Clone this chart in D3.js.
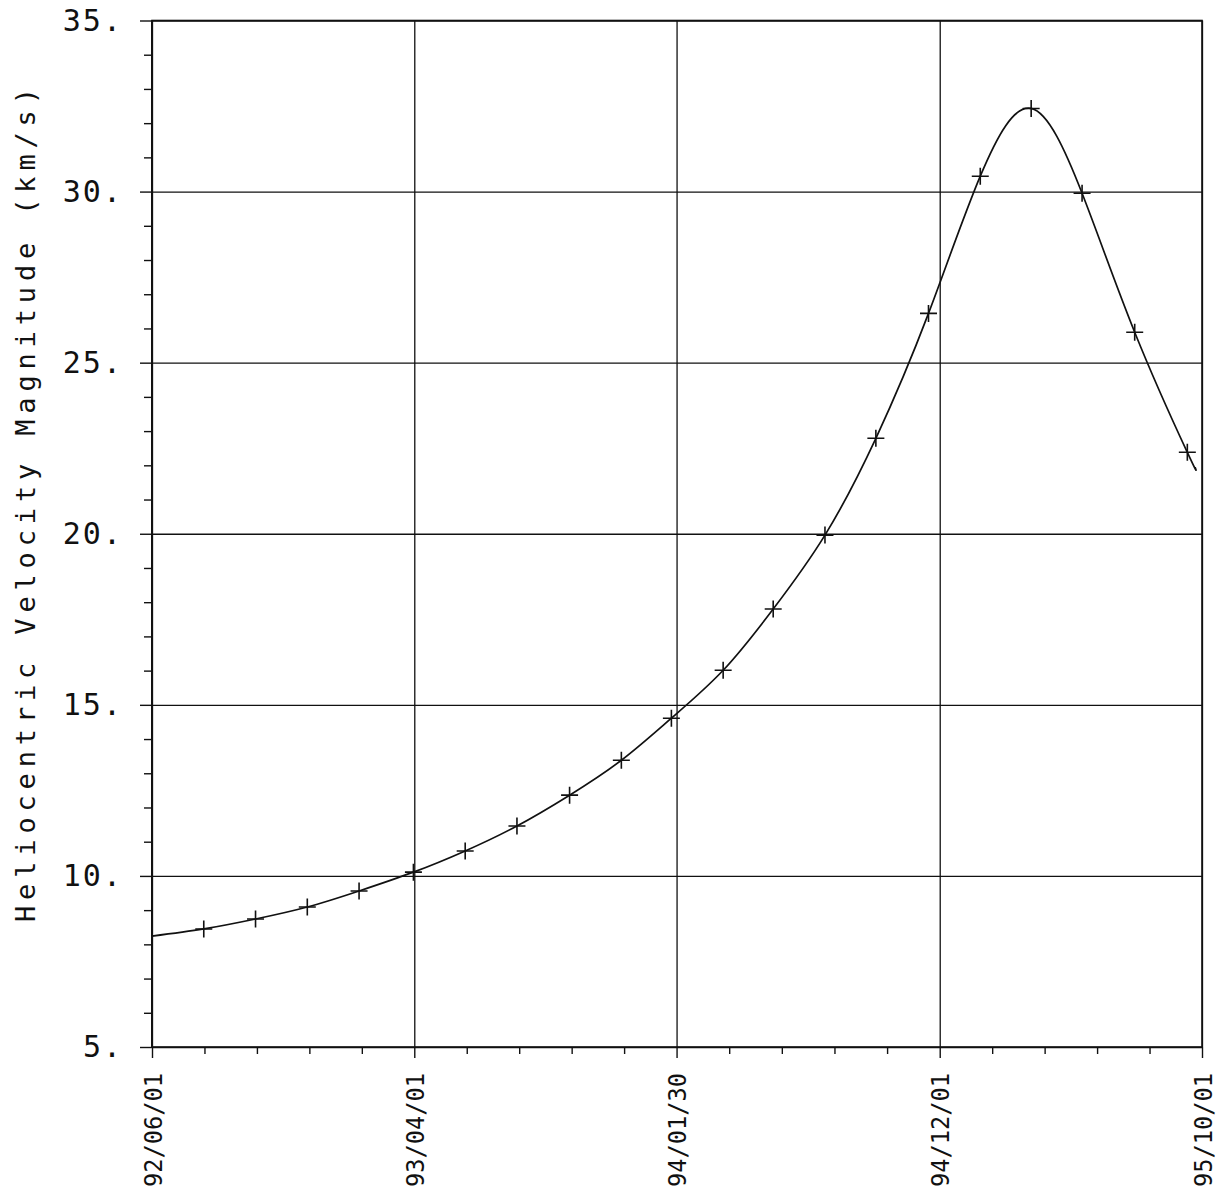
<!DOCTYPE html>
<html>
<head>
<meta charset="utf-8">
<script src="https://cdn.jsdelivr.net/npm/d3@7"></script>
<style>
  html, body { margin: 0; padding: 0; background: #fff; }
  svg { display: block; }
  text { font-family: "DejaVu Sans Mono", "Liberation Mono", monospace; fill: #111; }
</style>
</head>
<body>
<svg id="chart" width="1231" height="1196"></svg>
<script>
// ---- data ----
const xTickLabels = ["92/06/01", "93/04/01", "94/01/30", "94/12/01", "95/10/01"];
const yTickValues = [5, 10, 15, 20, 25, 30, 35];
const yTitle = "Heliocentric Velocity Magnitude (km/s)";

// "+" markers
const markerDates = [
  "92/07/31", "92/09/29", "92/11/28", "93/01/27", "93/03/31",
  "93/05/30", "93/07/29", "93/09/28", "93/11/27", "94/01/24",
  "94/03/25", "94/05/22", "94/07/21", "94/09/18", "94/11/18",
  "95/01/17", "95/03/17", "95/05/15", "95/07/15", "95/09/14"
];
const markerValues = [
  8.45, 8.74, 9.09, 9.56, 10.11,
  10.73, 11.46, 12.36, 13.38, 14.61,
  16.01, 17.80, 19.96, 22.79, 26.44,
  30.45, 32.43, 29.95, 25.89, 22.38
];
// ends of the continuous curve (beyond the markers)
const curveStartDate = "92/06/01", curveStartValue = 8.24;
const curveEndDate = "95/09/23", curveEndValue = 21.94;

(function () {
  // ---- layout ----
  const svg = d3.select("#chart");
  const mLeft = 152, mRight = 1202, mTop = 20.5, mBottom = 1047;
  const parse = d3.utcParse("%y/%m/%d");

  const xTicks = xTickLabels.map(parse);
  const x = d3.scaleUtc().domain([xTicks[0], xTicks[xTicks.length - 1]]).range([mLeft, mRight]);
  const y = d3.scaleLinear().domain([5, 35]).range([mBottom, mTop]);

  // minor x ticks: 4 between each pair of labelled ticks
  const xMinor = [];
  for (let i = 0; i < xTicks.length - 1; i++) {
    const a = +xTicks[i], b = +xTicks[i + 1];
    for (let k = 1; k < 5; k++) xMinor.push(new Date(a + (b - a) * k / 5));
  }
  const yMinor = d3.range(5, 36, 1).filter(v => v % 5 !== 0);

  const ink = "#111";

  // grid lines
  svg.append("g")
    .attr("transform", `translate(${mLeft},0)`)
    .call(d3.axisLeft(y).tickValues(yTickValues).tickSize(-(mRight - mLeft)).tickFormat(""))
    .call(g => g.select(".domain").remove())
    .call(g => g.selectAll("line").attr("stroke", ink).attr("stroke-width", 1.3));
  svg.append("g")
    .attr("transform", `translate(0,${mBottom})`)
    .call(d3.axisBottom(x).tickValues(xTicks).tickSize(-(mBottom - mTop)).tickFormat(""))
    .call(g => g.select(".domain").remove())
    .call(g => g.selectAll("line").attr("stroke", ink).attr("stroke-width", 1.3));

  // y axis: minor + major ticks
  svg.append("g")
    .attr("transform", `translate(${mLeft},0)`)
    .call(d3.axisLeft(y).tickValues(yMinor).tickSize(8).tickFormat(""))
    .call(g => g.select(".domain").remove())
    .call(g => g.selectAll("line").attr("stroke", ink).attr("stroke-width", 1.4));
  const yAxis = svg.append("g")
    .attr("transform", `translate(${mLeft},0)`)
    .call(d3.axisLeft(y).tickValues(yTickValues).tickSize(12).tickPadding(17).tickFormat(d => d + "."))
    .call(g => g.select(".domain").remove())
    .call(g => g.selectAll("line").attr("stroke", ink).attr("stroke-width", 1.4));
  yAxis.selectAll("text")
    .attr("font-size", 30)
    .attr("letter-spacing", 2)
    .attr("fill", "#222")
    .attr("dy", "0.33em");

  // x axis: minor + major ticks
  svg.append("g")
    .attr("transform", `translate(0,${mBottom})`)
    .call(d3.axisBottom(x).tickValues(xMinor).tickSize(7).tickFormat(""))
    .call(g => g.select(".domain").remove())
    .call(g => g.selectAll("line").attr("stroke", ink).attr("stroke-width", 1.4));
  const xAxis = svg.append("g")
    .attr("transform", `translate(0,${mBottom})`)
    .call(d3.axisBottom(x).tickValues(xTicks).tickSize(11).tickFormat((d, i) => xTickLabels[i]))
    .call(g => g.select(".domain").remove())
    .call(g => g.selectAll("line").attr("stroke", ink).attr("stroke-width", 1.4));
  xAxis.selectAll("text")
    .attr("font-size", 25)
    .attr("fill", "#222")
    .attr("text-anchor", "end")
    .attr("transform", "rotate(-90)")
    .attr("x", -26)
    .attr("y", 9)
    .attr("dy", 0)
    .attr("textLength", 114)
    .attr("lengthAdjust", "spacingAndGlyphs");

  // frame
  svg.append("rect")
    .attr("x", mLeft).attr("y", mTop)
    .attr("width", mRight - mLeft).attr("height", mBottom - mTop)
    .attr("fill", "none").attr("stroke", ink).attr("stroke-width", 1.6);
  svg.append("line")
    .attr("x1", mLeft).attr("x2", mLeft).attr("y1", mTop).attr("y2", mBottom)
    .attr("stroke", ink).attr("stroke-width", 2);

  // y-axis title
  svg.append("text")
    .attr("transform", `translate(35,${(88 + 922) / 2}) rotate(-90)`)
    .attr("text-anchor", "middle")
    .attr("font-size", 27)
    .attr("fill", "#222")
    .attr("textLength", 834)
    .attr("lengthAdjust", "spacing")
    .text(yTitle);

  // curve
  const curveData = [[parse(curveStartDate), curveStartValue]]
    .concat(markerDates.map((d, i) => [parse(d), markerValues[i]]))
    .concat([[parse(curveEndDate), curveEndValue]]);
  const line = d3.line()
    .x(d => x(d[0]))
    .y(d => y(d[1]))
    .curve(d3.curveNatural);
  svg.append("path")
    .datum(curveData)
    .attr("d", line)
    .attr("fill", "none")
    .attr("stroke", ink)
    .attr("stroke-width", 1.7);

  // "+" markers
  const arm = 8.5;
  svg.append("g")
    .selectAll("path")
    .data(markerDates.map((d, i) => [parse(d), markerValues[i]]))
    .join("path")
    .attr("transform", d => `translate(${x(d[0])},${y(d[1])})`)
    .attr("d", `M${-arm},0H${arm}M0,${-arm}V${arm}`)
    .attr("stroke", ink)
    .attr("stroke-width", 1.6)
    .attr("fill", "none");
})();
</script>
</body>
</html>
